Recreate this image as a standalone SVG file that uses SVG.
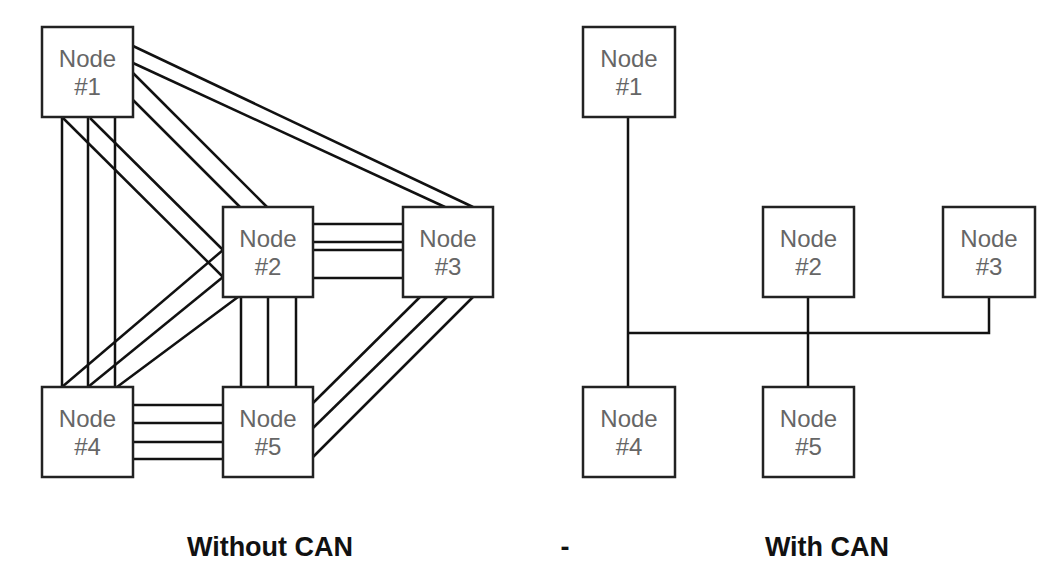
<svg xmlns="http://www.w3.org/2000/svg" width="1050" height="582" viewBox="0 0 1050 582">
<style>
.n rect{fill:#fff;stroke:#222;stroke-width:2.5}
.n text{font-family:"Liberation Sans",Arial,sans-serif;font-size:24px;fill:#666;text-anchor:middle}
.c line,.c polyline{stroke:#111;stroke-width:2.5;fill:none}
.t{font-family:"Liberation Sans",Arial,sans-serif;font-size:27px;font-weight:bold;fill:#111;text-anchor:middle}
</style>
<rect width="1050" height="582" fill="#fff"/>
<g class="c" id="connectors">
<line x1="133" y1="46" x2="473" y2="207"/>
<line x1="133" y1="63" x2="445" y2="207"/>
<line x1="133" y1="73" x2="267" y2="207"/>
<line x1="133" y1="100" x2="240" y2="207"/>
<line x1="63" y1="118" x2="223" y2="277"/>
<line x1="90" y1="118" x2="223" y2="250"/>
<line x1="62" y1="117" x2="62" y2="387"/>
<line x1="88" y1="117" x2="88" y2="387"/>
<line x1="115" y1="117" x2="115" y2="387"/>
<line x1="62" y1="387" x2="223" y2="250"/>
<line x1="88" y1="387" x2="223" y2="277"/>
<line x1="117" y1="387" x2="238" y2="297"/>
<line x1="241" y1="297" x2="241" y2="387"/>
<line x1="268" y1="297" x2="268" y2="387"/>
<line x1="296" y1="297" x2="296" y2="387"/>
<line x1="313" y1="224" x2="403" y2="224"/>
<line x1="313" y1="242" x2="403" y2="242"/>
<line x1="313" y1="250" x2="403" y2="250"/>
<line x1="313" y1="278" x2="403" y2="278"/>
<line x1="133" y1="405" x2="223" y2="405"/>
<line x1="133" y1="423" x2="223" y2="423"/>
<line x1="133" y1="442" x2="223" y2="442"/>
<line x1="133" y1="459" x2="223" y2="459"/>
<line x1="420" y1="297" x2="313" y2="403"/>
<line x1="447" y1="297" x2="313" y2="428"/>
<line x1="473" y1="297" x2="313" y2="457"/>
<line x1="628" y1="117" x2="628" y2="387"/>
<polyline points="628,333 989,333 989,297"/>
<line x1="808" y1="297" x2="808" y2="387"/>
</g>
<g class="n" id="l1"><rect x="42" y="27" width="91" height="90"/><text x="87.5" y="67">Node</text><text x="87.5" y="95">#1</text></g>
<g class="n" id="l2"><rect x="223" y="207" width="90" height="90"/><text x="268" y="247">Node</text><text x="268" y="275">#2</text></g>
<g class="n" id="l3"><rect x="403" y="207" width="90" height="90"/><text x="448" y="247">Node</text><text x="448" y="275">#3</text></g>
<g class="n" id="l4"><rect x="42" y="387" width="91" height="90"/><text x="87.5" y="427">Node</text><text x="87.5" y="455">#4</text></g>
<g class="n" id="l5"><rect x="223" y="387" width="90" height="90"/><text x="268" y="427">Node</text><text x="268" y="455">#5</text></g>
<g class="n" id="r1"><rect x="583" y="27" width="92" height="90"/><text x="629" y="67">Node</text><text x="629" y="95">#1</text></g>
<g class="n" id="r2"><rect x="763" y="207" width="91" height="90"/><text x="808.5" y="247">Node</text><text x="808.5" y="275">#2</text></g>
<g class="n" id="r3"><rect x="943" y="207" width="92" height="90"/><text x="989" y="247">Node</text><text x="989" y="275">#3</text></g>
<g class="n" id="r4"><rect x="583" y="387" width="92" height="90"/><text x="629" y="427">Node</text><text x="629" y="455">#4</text></g>
<g class="n" id="r5"><rect x="763" y="387" width="91" height="90"/><text x="808.5" y="427">Node</text><text x="808.5" y="455">#5</text></g>
<text class="t" x="270" y="556">Without CAN</text>
<text class="t" x="565" y="556">-</text>
<text class="t" x="827" y="556">With CAN</text>
</svg>
